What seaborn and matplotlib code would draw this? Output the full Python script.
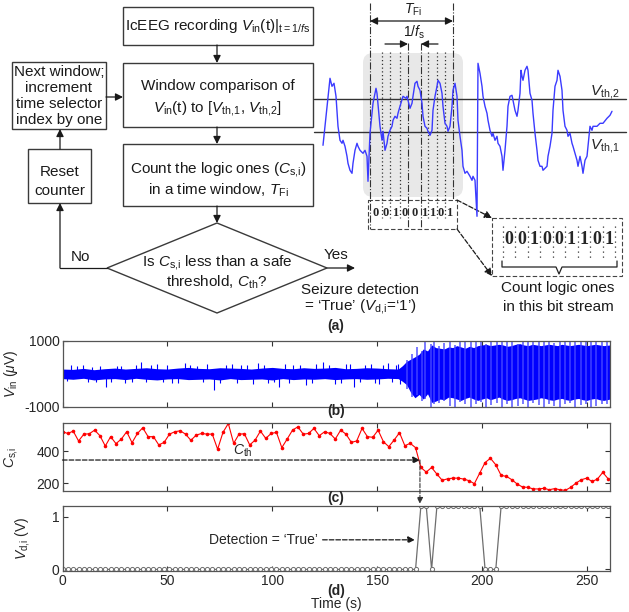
import numpy as np
import matplotlib
matplotlib.use('Agg')
import matplotlib.pyplot as plt
import seaborn as sns
from matplotlib.patches import Rectangle, Polygon, FancyBboxPatch

# ---------------- data ----------------
# (c) count of logic ones per time window, (d) detector output
window_step = 2.55  # s between windows
c_si = [523, 512, 527, 465, 508, 510, 533, 498, 433, 492,
        448, 477, 523, 454, 512, 548, 492, 492, 440, 456,
        508, 523, 529, 508, 469, 502, 512, 508, 508, 413,
        519, 575, 450, 508, 510, 440, 470,
        527, 481, 512, 519, 423, 477, 533, 554, 508, 512, 544, 498, 523,
        512, 477, 533, 508, 456, 465, 544, 492, 488, 533, 460, 429, 471,
        517, 435, 450, 423, 298, 269, 298, 256,
        217, 227, 231, 231, 225, 215, 196, 263, 329, 356, 315, 248, 242,
        221, 194, 175, 173, 163, 163, 167, 158, 165, 158, 154, 173, 200,
        221, 231, 210, 225, 267, 227]
v_high = 1.2
v_di = [0] * 67 + [v_high] * 2 + [0] + [v_high] * 9 + [0] * 3 + [v_high] * 21
c_th = 345

# (b) icEEG trace, drawn as envelope + spikes (uV)
env_t = [0, 5, 10, 15, 20, 25, 30, 35, 40, 45, 50, 55, 60, 65, 70, 75, 80,
         85, 90, 95, 100, 105, 110, 115, 120, 125, 130, 135, 140, 145, 150,
         155, 160,
         162, 164, 166, 168, 170, 172, 174, 176, 178, 180, 182, 184, 186, 188,
         190, 192, 194, 196, 198, 200, 202, 204, 206, 208, 210, 212, 214, 216,
         218, 220, 222, 224, 226, 228, 230, 232, 234, 236, 238, 240, 242, 244,
         246, 248, 250, 252, 254, 256, 258, 261]
env_hi = [150, 140, 170, 130, 160, 180, 150, 170, 190, 160, 150, 180, 200,
          170, 160, 190, 180, 170, 150, 180, 200, 170, 160, 190, 170, 180,
          200, 160, 170, 190, 180, 160, 150,
          250, 380, 450, 520, 600, 760, 700, 880, 800, 780, 760, 820, 800,
          860, 820, 780, 840, 800, 860, 880, 900, 860, 880, 900, 880, 840,
          860, 900, 920, 880, 860, 900, 880, 860, 880, 900, 880, 860, 900,
          880, 860, 880, 900, 880, 860, 880, 900, 880, 860, 880]
env_lo = [-140, -160, -130, -180, -150, -140, -170, -130, -160, -180, -150,
          -140, -170, -160, -150, -180, -140, -170, -160, -150, -180, -140,
          -170, -150, -160, -140, -170, -150, -140, -160, -150, -130, -140,
          -220, -320, -560, -720, -620, -760, -600, -860, -820, -760, -780,
          -700, -720, -760, -800, -740, -700, -760, -800, -760, -720, -780,
          -740, -700, -760, -800, -780, -740, -720, -760, -800, -780, -760,
          -720, -740, -780, -800, -760, -740, -780, -800, -760, -740, -780,
          -800, -760, -740, -780, -800, -760]
spike_t = [2, 4, 7, 10, 12, 14, 16, 18, 20.5, 23, 26, 28, 30, 33, 35, 37.5,
           40, 42, 45, 48, 50, 52, 55, 58.6, 61, 64, 67, 69, 72, 75, 78, 81,
           83, 85, 88, 91, 93, 96, 98, 101, 103, 106, 108, 110, 113, 116, 119,
           121, 124, 127, 130, 133, 135, 137, 139, 142, 144, 147, 149, 151,
           153, 155, 157, 159, 160, 161]
spike_v = [-220, 280, 230, 260, -240, 210, -250, 240, -394, -230, 250, 250,
           -280, -240, 260, 364, -250, 270, 300, -230, 280, -260, -260, 323,
           270, 240, -250, 290, -494, -270, 260, 300, -280, 280, 260, -300,
           330, 270, -260, -250, -400, 300, -280, 280, 260, -330, -270, 290,
           364, 280, -300, -260, 290, 300, -380, -250, 270, 300, -260, -290,
           260, 320, -240, 280, 300, -300]
burst_t = [164, 166.5, 169, 171.5, 173, 175.5, 177, 179.5, 182, 184.5, 187,
           189.5, 192, 194.5, 197, 199.5, 202, 204.5, 207, 209.5, 212, 214.5,
           217, 219.5, 222, 224.5, 227, 229.5, 232, 234.5, 237, 239.5, 242,
           244.5, 247, 249.5, 252, 254.5, 257, 259.5]
burst_hi = [420, 600, 820, 700, 1000, 900, 1000, 860, 940, 1000, 880, 1000,
            960, 1000, 1000, 1000, 920, 1000, 1000, 980, 1000, 1000, 900,
            1000, 1000, 960, 1000, 1000, 1000, 940, 1000, 1000, 1000, 1000,
            980, 1000, 1000, 960, 1000, 1000]
burst_lo = [-450, -700, -640, -820, -760, -1000, -900, -880, -820, -960,
            -1000, -860, -900, -1000, -920, -860, -1000, -940, -880, -1000,
            -920, -1000, -960, -900, -1000, -880, -940, -1000, -900, -960,
            -1000, -920, -880, -1000, -940, -900, -1000, -960, -920, -900]

# (a) zoomed waveform snippet (sample index, amplitude)
wave_n = [3, 10, 12, 14, 16, 18, 20, 22, 23, 25, 27, 28, 30, 32, 33, 35, 37,
          38, 40, 43, 45, 47, 48, 50, 53, 56, 57, 60, 62, 63, 65, 67, 68, 70,
          72, 73, 75, 77, 78, 80, 83, 86, 87, 90, 92, 93, 95, 97, 98, 100, 102,
          103, 105, 107, 108, 110, 112, 113, 115, 117, 118, 120, 122, 123, 125,
          127, 128, 130, 132, 133, 135, 137, 138, 140, 142, 143, 145, 147, 150,
          152, 153, 155, 157, 158, 160, 162, 163, 165, 167, 168, 170, 172, 173,
          175, 177, 178, 180, 182, 183, 185, 187, 188, 190, 192, 193, 195, 197,
          198, 200, 201, 202, 203, 205, 207, 208, 210, 212, 213, 215, 217, 218,
          220, 222, 223, 225, 227, 228, 230, 232, 233, 235, 237, 238, 240, 242,
          243, 245, 247, 248, 250, 252, 253, 255, 257, 258, 260, 262, 263, 265,
          267, 268, 270, 272, 273, 277, 280, 283, 287, 290, 292]
wave_v = [-12, 55, 47, 50, 37, 7, -7, -10, -7, -13, -23, -30, -37, -40, -30,
          -17, -10, -13, -17, -20, -17, -23, -48, 0, 30, 45, 40, 7, -7, 2, -17,
          -10, -3, 3, 7, 13, 17, 15, 20, 27, 37, 35, 37, 25, 30, 37, 50, 52, 47,
          43, 30, 17, 7, 5, 2, -2, 3, 23, 37, 47, 53, 50, 40, 27, 10, 7, 2, 7,
          27, 43, 50, 37, 13, -3, -17, -33, -40, -38, -43, -47, -43, -47, -83,
          70, 60, 47, 37, 27, 20, 13, 3, -3, 0, -7, -3, -10, -13, -23, -37,
          -17, 7, 27, 37, 38, 33, 23, 17, 23, 40, 63, 57, 53, 63, 67, 63, 40,
          33, 20, 0, -17, -27, -33, -33, -37, -35, -33, -23, -13, 0, 23, 47,
          53, 63, 57, 43, 23, 7, 3, -3, 0, -10, -13, -20, -27, -33, -23, -33,
          -40, -27, -23, -13, 7, 3, 7, 7, 10, 10, 15, 18, 22]
v_th1, v_th2 = 1, 34
bits = '001001101'

# ---------------- style ----------------
sns.set_theme(style='ticks')
plt.rcParams['font.family'] = ['Liberation Sans', 'DejaVu Sans']
plt.rcParams['mathtext.fontset'] = 'custom'
plt.rcParams['mathtext.rm'] = 'Liberation Sans'
plt.rcParams['mathtext.it'] = 'Liberation Sans:italic'
plt.rcParams['mathtext.bf'] = 'Liberation Sans:bold'
plt.rcParams['axes.unicode_minus'] = False

W, H = 629, 612
fig = plt.figure(figsize=(W / 100, H / 100), dpi=100)

# pixel canvas for the flow chart and annotations
ax0 = fig.add_axes([0, 0, 1, 1])
ax0.set_xlim(0, W)
ax0.set_ylim(H, 0)
ax0.axis('off')

EC = '#3a3a3a'
FS = 11


def box(x0, y0, x1, y1):
    ax0.add_patch(Rectangle((x0, y0), x1 - x0, y1 - y0, fill=False, ec=EC, lw=1))


def arrow(x0, y0, x1, y1, style='-|>', ls='-', ms=11):
    ax0.annotate('', xy=(x1, y1), xytext=(x0, y0),
                 arrowprops=dict(arrowstyle=style, color='k', lw=0.9, ls=ls,
                                 mutation_scale=ms, shrinkA=0, shrinkB=0))


def txt(x, y, s, size=FS, **kw):
    ax0.text(x, y, s, ha=kw.pop('ha', 'center'), va=kw.pop('va', 'center'),
             fontsize=size, color='#1a1a1a', **kw)


# flow chart
box(123, 7, 313, 45)
txt(218, 26, r'IcEEG recording $V_{\mathrm{in}}$(t)$|_{\mathrm{t=1/}f\mathrm{s}}$')
arrow(217, 45, 217, 63)
box(123, 63, 313, 127)
txt(218, 86, 'Window comparison of')
txt(218, 108, r'$V_{\mathrm{in}}$(t) to [$V_{\mathrm{th{,}1}}$, $V_{\mathrm{th{,}2}}$]')
arrow(217, 127, 217, 144)
box(123, 144, 313, 206)
txt(218, 169, r'Count the logic ones ($C_{\mathrm{s{,}i}}$)')
txt(218, 190, r'in a time window, $T_{\mathrm{Fi}}$')
arrow(217, 206, 217, 223)
ax0.add_patch(Polygon([(217, 223), (327, 268), (217, 313), (107, 268)],
                      closed=True, fill=False, ec=EC, lw=1))
txt(217, 262, r'Is $C_{\mathrm{s{,}i}}$ less than a safe')
txt(217, 282, r'threshold, $C_{\mathrm{th}}$?')
ax0.plot([107, 60], [268, 268], color='k', lw=0.9)
arrow(60, 268, 60, 203)
txt(80, 257, 'No')
box(28, 149, 91, 203)
txt(60, 172, 'Reset')
txt(60, 191, 'counter')
arrow(60, 149, 60, 129)
box(12, 62, 106, 129)
for yy, s in zip([72, 88, 104, 120],
                 ['Next window;', 'increment', 'time selector', 'index by one']):
    txt(59, yy, s)
arrow(106, 97, 123, 97)
arrow(327, 268, 355, 268)
txt(336, 255, 'Yes')
txt(360, 290, 'Seizure detection')
txt(360, 307, '= \u2018True\u2019 ($V_{\\mathrm{d{,}i}}$=\u20181\u2019)')

# window / sampling annotation around the waveform
ax0.add_patch(FancyBboxPatch((363, 53), 100, 144,
                             boxstyle='round,pad=0,rounding_size=10',
                             fc='#e8e8e8', ec='none', zorder=0))
grid_x = [370, 381.7, 390, 400, 408.3, 420.7, 428.3, 436.7, 445, 453.3]
for i, gx in enumerate(grid_x):
    if i in (0, 9):
        ax0.plot([gx, gx], [3, 229 if i == 0 else 200], color='#333',
                 lw=0.8, ls='-.')
    elif i in (4, 5):
        ax0.plot([gx, gx], [43, 229], color='#333', lw=0.8, ls='-.')
    else:
        ax0.plot([gx, gx], [52, 218], color='#333', lw=0.9, ls=(0, (1, 2)))
for i, b in enumerate(bits):
    ax0.text((grid_x[i] + grid_x[i + 1]) / 2, 213, b, ha='center', va='center',
             fontsize=9, family='Liberation Serif', fontweight='bold')
ax0.add_patch(Rectangle((368, 200), 89, 29, fill=False, ec='#444', lw=0.8,
                        ls=(0, (4, 2))))
arrow(370, 21, 453, 21, style='<|-|>')
txt(413, 10, r'$T_{\mathrm{Fi}}$', size=10)
txt(414, 32, r'1/$f_{\mathrm{s}}$', size=10)
arrow(385, 44, 408, 44)
arrow(438, 44, 421, 44)

# enlarged bit stream
ax0.add_patch(Rectangle((492, 218), 130, 58, fill=False, ec='#444', lw=0.8,
                        ls=(0, (4, 2))))
arrow(457, 200, 492, 218, ls='--')
arrow(457, 229, 492, 276, ls='--')
big_x = np.linspace(503, 615, len(bits) + 1)
for i, b in enumerate(bits):
    ax0.text((big_x[i] + big_x[i + 1]) / 2, 240, b, ha='center', va='center',
             fontsize=13, family='Liberation Serif', fontweight='bold')
for gx in big_x:
    ax0.plot([gx, gx], [226, 258], color='#333', lw=0.9, ls=(0, (1, 3)))
ax0.plot([502, 502, 556, 559, 562, 617, 617], [261, 267, 267, 274, 267, 267, 261],
         color='#222', lw=0.9)
txt(558, 288, 'Count logic ones')
txt(558, 307, 'in this bit stream')

# waveform snippet
ax_w = fig.add_axes([320 / W, 1 - 320 / H, 309 / W, 320 / H])
ax_w.set_xlim(0, 309)
ax_w.set_ylim(133.3 - 320, 133.3)
ax_w.axis('off')
ax_w.patch.set_visible(False)
for v in (v_th1, v_th2):
    ax_w.plot([-6, 306], [v, v], color='#333', lw=1, clip_on=False)
sns.lineplot(x=wave_n, y=wave_v, ax=ax_w, color='#3b3bff', lw=1,
             estimator=None, sort=False)
ax_w.text(270, v_th2 + 7, r'$V_{\mathrm{th{,}2}}$', fontsize=FS, va='center')
ax_w.text(270, v_th1 - 14, r'$V_{\mathrm{th{,}1}}$', fontsize=FS, va='center')

# ---------------- time-series panels ----------------
L, R = 62.5 / W, 610 / W


def panel(top, bottom):
    return fig.add_axes([L, 1 - bottom / H, R - L, (bottom - top) / H])


ax_b = panel(341, 407)
ax_c = panel(423, 491)
ax_d = panel(506, 571)

ax_b.fill_between(env_t, env_lo, env_hi, color='blue', lw=0)
ax_b.vlines(spike_t, 0, spike_v, color='blue', lw=0.8)
ax_b.vlines(burst_t, burst_lo, burst_hi, color='#4646ff', lw=1.2, alpha=0.85)
ax_b.set_ylim(-1000, 1000)
ax_b.set_yticks([-1000, 1000])
ax_b.set_ylabel(r'$V_{\mathrm{in}}$ ($\mu$V)')

t_win = np.arange(len(c_si)) * window_step
sns.lineplot(x=t_win, y=c_si, ax=ax_c, color='red', lw=0.8, marker='o',
             markersize=2.6, markeredgewidth=0)
ax_c.set_ylim(150, 578)
ax_c.set_yticks([200, 400])
ax_c.set_ylabel(r'$C_{\mathrm{s{,}i}}$')
t_det = 170.4
ax_c.annotate('', xy=(t_det, c_th), xytext=(0, c_th),
              arrowprops=dict(arrowstyle='-|>', color='k', lw=0.9, ls='--',
                              mutation_scale=10, shrinkA=0, shrinkB=0))
ax_c.annotate('', xy=(t_det, 70), xytext=(t_det, c_th), annotation_clip=False,
              arrowprops=dict(arrowstyle='-|>', color='#333', lw=0.8,
                              ls='--', mutation_scale=9, shrinkA=0, shrinkB=0))
ax_c.text(86, 352, r'$C_{\mathrm{th}}$', fontsize=10, ha='center', va='bottom')

sns.lineplot(x=t_win, y=v_di, ax=ax_d, color='#6e6e6e', lw=0.9, marker='o',
             markersize=3, markerfacecolor='white', markeredgecolor='#6e6e6e',
             markeredgewidth=0.7)
ax_d.set_ylim(-0.03, 1.2)
ax_d.set_yticks([0, 1])
ax_d.set_ylabel(r'$V_{\mathrm{d{,}i}}$ (V)')
ax_d.text(70, 0.56, 'Detection = \u2018True\u2019', fontsize=10, va='center')
ax_d.annotate('', xy=(168, 0.56), xytext=(124, 0.56),
              arrowprops=dict(arrowstyle='-|>', color='k', lw=0.9, ls='--',
                              mutation_scale=10, shrinkA=0, shrinkB=0))

for ax, lx in ((ax_b, -0.078), (ax_c, -0.078), (ax_d, -0.056)):
    ax.set_xlim(0, 261)
    ax.set_xticks([0, 50, 100, 150, 200, 250])
    ax.tick_params(direction='in', top=True, right=True, length=3.5,
                   width=0.8, labelsize=10, color='#333', pad=2)
    for sp in ax.spines.values():
        sp.set_visible(True)
        sp.set_color('#555')
        sp.set_linewidth(0.9)
    ax.yaxis.label.set_size(10)
    ax.yaxis.set_label_coords(lx, 0.5)
    ax.set_xlabel('')
ax_b.tick_params(labelbottom=False)
ax_c.tick_params(labelbottom=False)

for y, s in ((326, '(a)'), (411, '(b)'), (498, '(c)'), (591, '(d)')):
    fig.text(336 / W, 1 - y / H, s, ha='center', va='center', fontsize=10,
             fontweight='bold')
fig.text(336 / W, 1 - 604 / H, 'Time (s)', ha='center', va='center', fontsize=10)

fig.savefig('out.png', dpi=100)
